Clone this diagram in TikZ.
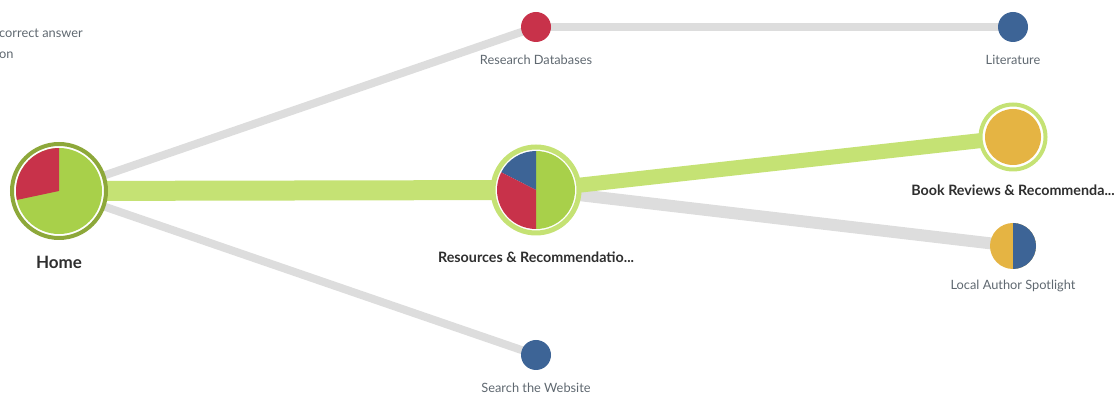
\documentclass[tikz,border=0pt]{standalone}
\usepackage{fontspec}
\setmainfont{Lato}
\definecolor{pgreen}{HTML}{A8D04A}
\definecolor{pred}{HTML}{C8324A}
\definecolor{pblue}{HTML}{3D6496}
\definecolor{porange}{HTML}{E5B443}
\definecolor{lgreen}{HTML}{C5E274}
\definecolor{dgreen}{HTML}{8DA83A}
\definecolor{egrey}{HTML}{DDDDDD}
\definecolor{tgrey}{HTML}{5F6870}
\definecolor{tdark}{HTML}{2E2E2E}
\tikzset{
  dot/.style={circle, inner sep=0pt, minimum size=30pt},
  ringnode/.style={circle, inner sep=0pt, fill=white},
  small/.style={font=\fontsize{12.8}{14}\selectfont, text=tgrey},
  big/.style={font=\bfseries\fontsize{14.3}{16}\selectfont, text=tdark},
  greyedge/.style={draw=egrey, line width=8pt},
  greenedge/.style={draw=lgreen},
}
\begin{document}
\begin{tikzpicture}[x=1pt,y=1pt]
\useasboundingbox (0,0) rectangle (1118,395);
% node positions
\coordinate (homec) at (59,204);
\coordinate (resc) at (536,205);
\coordinate (rdbc) at (536,368);
\coordinate (litc) at (1013,368);
\coordinate (bookc) at (1013,258);
\coordinate (localc) at (1013,149);
\coordinate (searchc) at (536,40);
% connectors
\draw[greyedge] (homec) -- (rdbc);
\draw[greyedge] (homec) -- (searchc);
\draw[greyedge] (rdbc) -- (litc);
\draw[greyedge, line width=12pt] (resc) -- (localc);
\draw[greenedge, line width=20pt] (homec) -- (resc);
\draw[greenedge, line width=15pt] (resc) -- (bookc);
% Home
\node[ringnode, draw=dgreen, line width=4pt, minimum size=94pt] (home) at (homec) {};
\fill[pgreen] (homec) circle (43);
\fill[pred] (homec) -- ++(90:43) arc (90:192:43) -- cycle;
\node[font=\bfseries\fontsize{17}{19}\selectfont, text=tdark] (homel) at (59,133) {Home};
% Resources
\node[ringnode, draw=lgreen, line width=5pt, minimum size=86pt] (res) at (resc) {};
\fill[pgreen] (resc) -- ++(-90:39) arc (-90:90:39) -- cycle;
\fill[pblue] (resc) -- ++(90:39) arc (90:153:39) -- cycle;
\fill[pred] (resc) -- ++(153:39) arc (153:270:39) -- cycle;
\node[big] (resl) at (536,138) {Resources \& Recommendatio...};
% Book reviews
\node[ringnode, draw=lgreen, line width=4pt, minimum size=65pt] (book) at (bookc) {};
\fill[porange] (bookc) circle (28);
\node[big] (bookl) at (1013,205) {Book Reviews \& Recommenda...};
% Local author
\node[dot, minimum size=46pt, fill=porange] (local) at (localc) {};
\fill[pblue] (localc) -- ++(-90:23) arc (-90:90:23) -- cycle;
\node[small] (locall) at (1013,109) {Local Author Spotlight};
% small nodes
\node[dot, fill=pred] (rdb) at (rdbc) {};
\node[small] (rdbl) at (536,335) {Research Databases};
\node[dot, fill=pblue] (lit) at (litc) {};
\node[small] (litl) at (1013,335) {Literature};
\node[dot, fill=pblue] (search) at (searchc) {};
\node[small] (searchl) at (536,7) {Search the Website};
% cut legend text
\node[small, anchor=west, inner sep=0pt] (leg1) at (-1,362) {correct answer};
\node[small, anchor=west, inner sep=0pt] (leg2) at (-1,340) {on};
\end{tikzpicture}
\end{document}
